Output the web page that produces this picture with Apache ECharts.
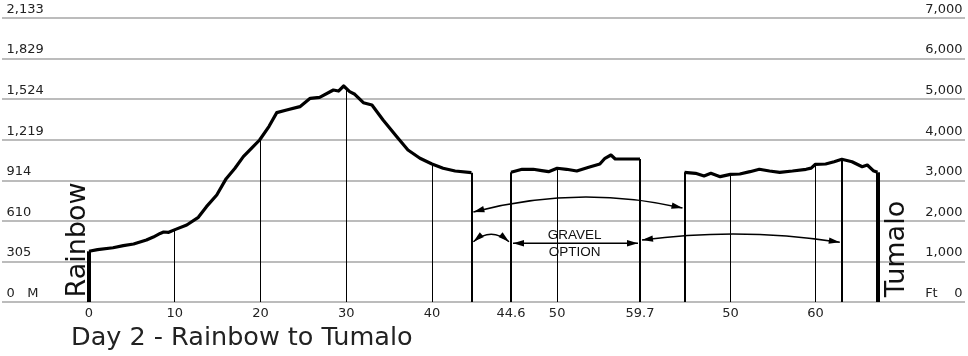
<!DOCTYPE html>
<html><head><meta charset="utf-8">
<script src="https://cdn.jsdelivr.net/npm/echarts@6/dist/echarts.min.js"></script>
<style>html,body{margin:0;padding:0;background:#fff}#c{width:968px;height:356px}</style>
</head><body><div id="c"></div>
<script>
// ---------- DATA ----------
// Segment 1: Rainbow -> junction (miles, feet)
const seg1Miles = [0, 1.0, 2.8, 4.0, 5.2, 6.7, 7.5, 8.3, 8.7, 9.3, 10.1, 11.4, 12.75, 13.7, 14.9, 16.0, 17.0, 18.0, 19.0, 19.9, 21.0, 21.9, 23.05, 24.6, 25.8, 26.9, 28.5, 29.1, 29.7, 30.4, 31.0, 32.0, 33.0, 34.3, 35.9, 37.2, 38.6, 40.0, 41.3, 42.7, 44.6];
const seg1Feet  = [1250, 1290, 1338, 1390, 1430, 1528, 1600, 1690, 1725, 1718, 1790, 1898, 2087, 2350, 2637, 3040, 3290, 3582, 3800, 3993, 4330, 4667, 4733, 4815, 5020, 5045, 5225, 5200, 5324, 5184, 5120, 4913, 4856, 4486, 4074, 3747, 3542, 3401, 3296, 3229, 3187];
// Segment 2: gravel option (miles, feet)
const seg2Miles = [44.6, 45.9, 47.2, 48.2, 49.0, 50.0, 51.1, 52.3, 53.7, 55.0, 55.6, 56.3, 56.8, 58.2, 59.7];
const seg2Feet  = [3197, 3271, 3271, 3240, 3212, 3296, 3271, 3229, 3320, 3401, 3542, 3623, 3525, 3525, 3525];
// Segment 3: paved route -> Tumalo (miles, feet)
const seg3Miles = [44.6, 45.9, 46.9, 47.7, 48.8, 50.0, 51.1, 52.3, 53.4, 54.6, 55.8, 57.3, 58.9, 59.5, 60.0, 61.2, 62.2, 63.1, 64.3, 65.5, 66.1, 66.8, 67.3];
const seg3Feet  = [3197, 3172, 3106, 3172, 3089, 3147, 3155, 3212, 3271, 3229, 3197, 3229, 3271, 3300, 3394, 3401, 3458, 3517, 3458, 3335, 3377, 3237, 3197];

// Tick labels
const seg1Ticks = [0, 10, 20, 30, 40];
const seg2Ticks = [44.6, 50, 59.7];
const seg3Ticks = [50, 60];
const gravelRejoinMile = 63.1;
const meterLabels = ['0   M', '305', '610', '914', '1,219', '1,524', '1,829', '2,133'];
const feetLabels  = ['Ft    0', '1,000', '2,000', '3,000', '4,000', '5,000', '6,000', '7,000'];

// Annotations: [gridIndex, mile, feet]
const arrowFrom  = [[1, 44.6, 2220], [1, 44.6, 1486], [2, 44.6, 1447], [2, 59.7, 1528]];
const arrowTo    = [[3, 44.6, 2317], [2, 44.6, 1486], [2, 59.7, 1447], [3, 63.1, 1472]];
const arrowApex  = [2588, 1669, 1447, 1676];
const titleText = 'Day 2 - Rainbow to Tumalo';
const startName = 'Rainbow';
const endName = 'Tumalo';
const gravelText = 'GRAVEL\nOPTION';

// ---------- CHART ----------
const FONT = 'DejaVu Sans';
const chart = echarts.init(document.getElementById('c'));

function elevAt(miles, feet, m) {
  for (let i = 0; i < miles.length - 1; i++) {
    if (m >= miles[i] && m <= miles[i + 1]) {
      const t = (m - miles[i]) / (miles[i + 1] - miles[i]);
      return feet[i] + t * (feet[i + 1] - feet[i]);
    }
  }
  return feet[feet.length - 1];
}
function drop(miles, feet, m, w) {
  return [{coord: [m, 0], lineStyle: {width: w, color: '#000', type: 'solid'}}, {coord: [m, elevAt(miles, feet, m)]}];
}
function pairs(miles, feet) { return miles.map((m, i) => [m, feet[i]]); }

const TOP = 18, H = 284;
const grids = [
  {left: 2, width: 963, top: TOP, height: H},
  {left: 89, width: 382.4, top: TOP, height: H},
  {left: 511, width: 129, top: TOP, height: H},
  {left: 684.5, width: 193, top: TOP, height: H}
];
const segX = (gi, min, max, ticks) => ({
  type: 'value', gridIndex: gi, min, max,
  axisLine: {show: false}, axisTick: {show: false}, splitLine: {show: false},
  axisLabel: {customValues: ticks, fontSize: 13, color: '#222', fontFamily: FONT, margin: 5}
});
const segY = gi => ({type: 'value', gridIndex: gi, min: 0, max: 7000, show: false, splitLine: {show: false}});

const lblBase = {inside: true, verticalAlign: 'bottom', fontSize: 13, color: '#222', fontFamily: FONT, padding: [0, 0, 2, 0]};

const profile = (idx, miles, feet, drops) => ({
  type: 'line', xAxisIndex: idx, yAxisIndex: idx + 1, data: pairs(miles, feet),
  showSymbol: false, clip: false, z: 5,
  lineStyle: {color: '#000', width: 3.2, join: 'round'},
  markLine: {silent: true, symbol: ['none', 'none'], label: {show: false}, animation: false, z: 3,
    data: drops.map(d => drop(miles, feet, d[0], d[1]))}
});

chart.setOption({
  animation: false,
  grid: grids,
  xAxis: [
    {type: 'value', gridIndex: 0, min: 0, max: 1, show: false},
    segX(1, 0, 44.6, seg1Ticks),
    segX(2, 44.6, 59.7, seg2Ticks),
    segX(3, 44.6, 67.3, seg3Ticks)
  ],
  yAxis: [
    {type: 'value', gridIndex: 0, position: 'left', min: 0, max: 7000, interval: 1000,
      axisLine: {show: false}, axisTick: {show: false},
      splitLine: {show: true, lineStyle: {color: '#a6a6a6', width: 1.5}},
      axisLabel: Object.assign({}, lblBase, {margin: 4.5, formatter: v => meterLabels[Math.round(v / 1000)]})},
    {type: 'value', gridIndex: 0, position: 'right', min: 0, max: 7000, interval: 1000,
      axisLine: {show: false}, axisTick: {show: false}, splitLine: {show: false},
      axisLabel: Object.assign({}, lblBase, {margin: 2.5, formatter: v => feetLabels[Math.round(v / 1000)]})},
    segY(1), segY(2), segY(3)
  ],
  series: [
    {type: 'line', xAxisIndex: 0, yAxisIndex: 0, data: []},
    Object.assign(profile(1, seg1Miles, seg1Feet,
      [[seg1Ticks[0], 4]].concat(seg1Ticks.slice(1).map(m => [m, 1])).concat([[seg1Miles[seg1Miles.length - 1], 2]])), {yAxisIndex: 2}),
    Object.assign(profile(2, seg2Miles, seg2Feet,
      [[seg2Miles[0], 2], [seg2Miles[seg2Miles.length - 1], 2]].concat(seg2Ticks.slice(1, -1).map(m => [m, 1]))), {yAxisIndex: 3}),
    Object.assign(profile(3, seg3Miles, seg3Feet,
      [[seg3Miles[0], 2], [gravelRejoinMile, 2], [seg3Miles[seg3Miles.length - 1], 4]].concat(seg3Ticks.map(m => [m, 1]))), {yAxisIndex: 4})
  ]
});

// ---------- ANNOTATIONS ----------
const px = (g, m, f) => chart.convertToPixel({xAxisIndex: g, yAxisIndex: g + 1}, [m, f]);
const elements = [];
function head(tx, ty, dx, dy) {
  const len = Math.hypot(dx, dy) || 1; dx /= len; dy /= len;
  const L = 11, hw = 3.2;
  const bx = tx + dx * L, by = ty + dy * L;
  return {type: 'polygon', z: 20, shape: {points: [[tx, ty], [bx - dy * hw, by + dx * hw], [bx + dy * hw, by - dx * hw]]}, style: {fill: '#000'}};
}
for (let i = 0; i < arrowFrom.length; i++) {
  const a = arrowFrom[i], b = arrowTo[i];
  const p0 = px(a[0], a[1], a[2]), p2 = px(b[0], b[1], b[2]);
  p0[0] += 2; p2[0] -= 2;
  const apexY = px(a[0], a[1], arrowApex[i])[1];
  const mx = (p0[0] + p2[0]) / 2;
  const cx = mx, cy = 2 * apexY - (p0[1] + p2[1]) / 2;
  elements.push({type: 'bezierCurve', z: 19, shape: {x1: p0[0], y1: p0[1], x2: p2[0], y2: p2[1], cpx1: cx, cpy1: cy},
    style: {stroke: '#000', lineWidth: 1.5, fill: null}});
  elements.push(head(p0[0], p0[1], cx - p0[0], cy - p0[1]));
  elements.push(head(p2[0], p2[1], cx - p2[0], cy - p2[1]));
}
const gPos = px(2, 52.05, 1447);
elements.push({type: 'text', z: 20, x: gPos[0], y: gPos[1] + 0.5,
  style: {text: gravelText, fontFamily: 'Liberation Sans', fontSize: 13.5, lineHeight: 16.5, fill: '#111', align: 'center', verticalAlign: 'middle'}});
elements.push({type: 'text', z: 20, x: 78, y: 240, rotation: Math.PI / 2,
  style: {text: startName, fontFamily: FONT, fontSize: 27, fill: '#111', align: 'center', verticalAlign: 'middle'}});
elements.push({type: 'text', z: 20, x: 897, y: 249, rotation: Math.PI / 2,
  style: {text: endName, fontFamily: FONT, fontSize: 27, fill: '#111', align: 'center', verticalAlign: 'middle'}});
elements.push({type: 'text', z: 20, x: 71, y: 338,
  style: {text: titleText, fontFamily: FONT, fontSize: 25.5, fill: '#222', align: 'left', verticalAlign: 'middle'}});
chart.setOption({graphic: elements});
</script>
</body></html>
